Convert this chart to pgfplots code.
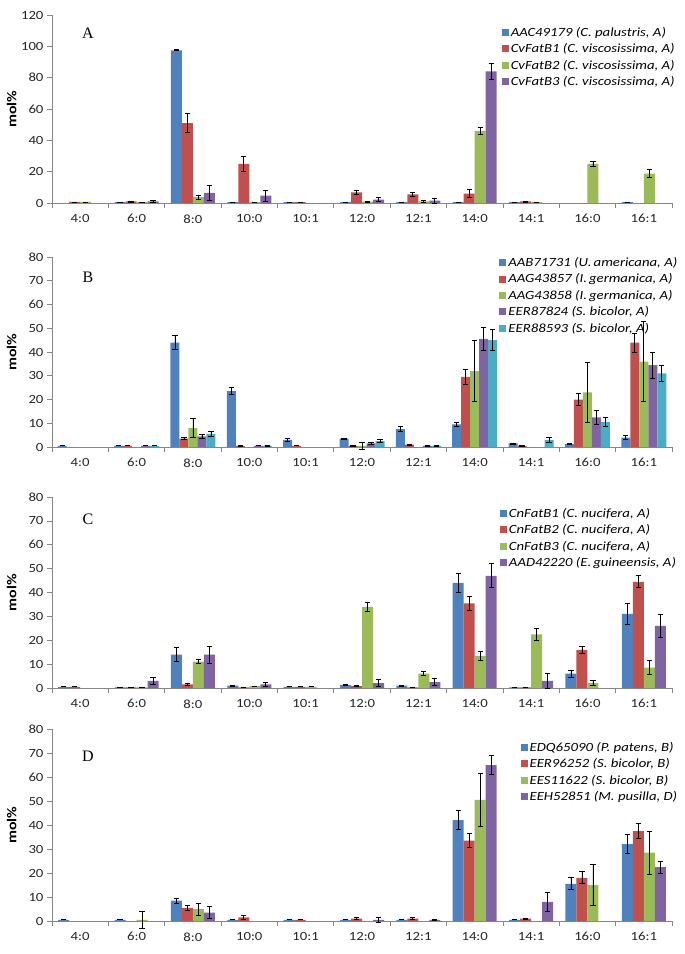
\documentclass[border=0pt]{standalone}
\usepackage{pgfplots}
\pgfplotsset{compat=1.18}
\usepackage{pgfplotstable}
\usepackage{fontspec}
\setmainfont{Carlito}[FakeStretch=1.18]
\newfontfamily\serifletter{Liberation Serif}
\definecolor{cb}{HTML}{4F81BD}
\definecolor{cr}{HTML}{C0504D}
\definecolor{cg}{HTML}{9BBB59}
\definecolor{cp}{HTML}{8064A2}
\definecolor{ca}{HTML}{4BACC6}
\definecolor{axgray}{HTML}{868686}
\definecolor{txt}{HTML}{262626}

\pgfplotstableread{
x a ae b be c ce d de
0 nan 0 0.7 0 0.7 0 nan 0
1 0.5 0 1.0 0.3 0.5 0.2 1.0 0.4
2 97.5 0.3 51 6 3.8 1.2 6.5 4.8
3 0.5 0.2 25 4.8 0.5 0.2 4.7 3.6
4 0.5 0 0.5 0.2 nan 0 nan 0
5 0.5 0.2 6.8 1.5 0.9 0.3 2.2 1.3
6 0.5 0 5.5 1.5 1 0.5 1.5 1.5
7 0.5 0 6 2.5 46 2 84 5
8 0.5 0 1 0.3 0.5 0.2 nan 0
9 nan 0 nan 0 25 1.5 nan 0
10 0.5 0 nan 0 18.8 2.5 nan 0
}\tA

\pgfplotstableread{
x a ae b be c ce d de f fe
0 0.5 0 nan 0 nan 0 nan 0 nan 0
1 0.5 0 0.5 0 nan 0 0.5 0 0.5 0
2 44 3 3.5 0.5 8 4 4.5 1 5.5 1
3 23.5 1.5 0.5 0.2 nan 0 0.5 0 0.5 0.2
4 3 0.5 0.5 0 nan 0 nan 0 nan 0
5 3.5 0.3 0.5 0.2 0.5 1.5 1.5 0.5 2.5 0.5
6 7.5 1 1 0.2 nan 0 0.5 0.2 0.5 0.2
7 9.5 1 29.5 3 32 13 45.5 5 45 4.5
8 1.5 0.2 0.5 0.2 nan 0 nan 0 3 1
9 1.2 0.3 20 2.5 23 12.5 12.5 3 10.5 2
10 4 1 44 4 36 17 34.5 5.5 31 3.5
}\tB

\pgfplotstableread{
x a ae b be c ce d de
0 0.5 0 0.5 0 nan 0 nan 0
1 0.3 0 0.3 0 0.3 0 3 1.5
2 14 3 1.5 0.3 11 0.8 14 3.5
3 1 0.3 0.3 0 0.8 0 1.5 1
4 0.5 0 0.5 0 0.5 0 nan 0
5 1.2 0.3 0.8 0.2 34 2 2 1.5
6 1 0.2 0.3 0 6 0.8 2.5 1.5
7 44 4 35.5 3 13.5 2 47 5
8 0.3 0 0.3 0 22.5 2.5 3 3
9 6 1.5 16 1.5 2 1 nan 0
10 31 4.5 44.5 2.5 8.5 3 26 5
}\tC

\pgfplotstableread{
x a ae b be c ce d de
0 0.5 0 nan 0 nan 0 nan 0
1 0.5 0 nan 0 0.5 3.5 nan 0
2 8.5 1 5.5 1 5 2.5 3.5 2.5
3 0.5 0 1.5 1 nan 0 nan 0
4 0.5 0 0.5 0 nan 0 nan 0
5 0.5 0 1 0.5 nan 0 0.5 1
6 0.5 0 1 0.5 nan 0 0.5 0.2
7 42 4 33.5 3 50.5 11 65 4
8 0.5 0 1 0.2 nan 0 8 4
9 15.5 2.5 18 2.5 15 8.5 nan 0
10 32 4 37.5 3 28.5 9 22.5 2.5
}\tD

\pgfplotsset{
  panel/.style={
    width=620pt, scale only axis, anchor=south west,
    xmin=-0.5, xmax=10.5, ymin=0,
    axis x line*=bottom, axis y line*=left,
    axis line style={draw=axgray, line width=0.7pt, -},
    tick align=outside,
    xtick={0,...,10},
    xticklabels={4:0,6:0,8:0,10:0,10:1,12:0,12:1,14:0,14:1,16:0,16:1},
    minor xtick={-0.5,0.5,...,10.5},
    major x tick style={draw=none},
    minor x tick style={draw=axgray, line width=0.7pt},
    minor tick length=5pt,
    major tick length=5pt,
    y tick style={draw=axgray, line width=0.7pt},
    /pgf/number format/assume math mode=true,
    tick label style={font=\fontsize{12.5}{15}\selectfont, text=txt},
    xticklabel style={yshift=-3pt},
    ylabel={\textbf{mol\%}},
    ylabel style={at={(axis description cs:-0.065,0.5)}, anchor=center, font=\fontsize{13.5}{16}\selectfont, text=black},
    unbounded coords=discard,
    clip=false,
    ybar=0pt, bar width=11pt,
    error bars/y dir=both, error bars/y explicit,
    error bars/error bar style={black, line width=0.8pt},
    error bars/error mark options={black, rotate=90, mark size=2.6pt, line width=0.8pt},
    legend style={draw=none, fill=none, inner sep=0pt, anchor=north east,
      font=\itshape\fontsize{12.5}{15}\selectfont, row sep=1.8pt,
      /tikz/every even column/.append style={column sep=2pt}},
    legend cell align=left,
    legend image code/.code={\fill[##1, draw=none] (0pt,-3.5pt) rectangle (7pt,3.5pt);},
  },
}

\begin{document}
\begin{tikzpicture}
\useasboundingbox (0pt,0pt) rectangle (685pt,-954pt);

% Panel A
\begin{axis}[panel, at={(52pt,-203pt)}, height=188pt, ymax=120, ytick={0,20,...,120},
  legend style={at={(1.008,0.947)}}]
\addplot[fill=cb, draw=none] table[x=x,y=a,y error=ae]{\tA};
\addlegendentry{AAC49179 (C. palustris, A)}
\addplot[fill=cr, draw=none] table[x=x,y=b,y error=be]{\tA};
\addlegendentry{CvFatB1 (C. viscosissima,\ A)}
\addplot[fill=cg, draw=none] table[x=x,y=c,y error=ce]{\tA};
\addlegendentry{CvFatB2 (C. viscosissima,\ A)}
\addplot[fill=cp, draw=none] table[x=x,y=d,y error=de]{\tA};
\addlegendentry{CvFatB3 (C. viscosissima,\ A)}
\node[font=\serifletter\fontsize{16}{16}\selectfont] at (rel axis cs:0.058,0.904) {A};
\end{axis}

% Panel B
\begin{axis}[panel, at={(52pt,-447pt)}, height=190pt, ymax=80, ytick={0,10,...,80},
  bar width=9pt, legend style={at={(1.012,1.01)}}]
\addplot[fill=cb, draw=none] table[x=x,y=a,y error=ae]{\tB};
\addlegendentry{AAB71731 (U.\,americana,\ A)}
\addplot[fill=cr, draw=none] table[x=x,y=b,y error=be]{\tB};
\addlegendentry{AAG43857 (I.\,germanica,\ A)}
\addplot[fill=cg, draw=none] table[x=x,y=c,y error=ce]{\tB};
\addlegendentry{AAG43858 (I.\,germanica,\ A)}
\addplot[fill=cp, draw=none] table[x=x,y=d,y error=de]{\tB};
\addlegendentry{EER87824 (S. bicolor, A)}
\addplot[fill=ca, draw=none] table[x=x,y=f,y error=fe]{\tB};
\addlegendentry{EER88593 (S. bicolor, A)}
\node[font=\serifletter\fontsize{16}{16}\selectfont] at (rel axis cs:0.058,0.895) {B};
\end{axis}

% Panel C
\begin{axis}[panel, at={(52pt,-688pt)}, height=191pt, ymax=80, ytick={0,10,...,80},
  legend style={at={(1.01,0.953)}}]
\addplot[fill=cb, draw=none] table[x=x,y=a,y error=ae]{\tC};
\addlegendentry{CnFatB1 (C. nucifera, A)}
\addplot[fill=cr, draw=none] table[x=x,y=b,y error=be]{\tC};
\addlegendentry{CnFatB2 (C. nucifera, A)}
\addplot[fill=cg, draw=none] table[x=x,y=c,y error=ce]{\tC};
\addlegendentry{CnFatB3 (C. nucifera, A)}
\addplot[fill=cp, draw=none] table[x=x,y=d,y error=de]{\tC};
\addlegendentry{AAD42220 (E.\,guineensis, A)}
\node[font=\serifletter\fontsize{16}{16}\selectfont] at (rel axis cs:0.058,0.885) {C};
\end{axis}

% Panel D
\begin{axis}[panel, at={(52pt,-921pt)}, height=192pt, ymax=80, ytick={0,10,...,80},
  legend style={at={(1.012,0.943)}}]
\addplot[fill=cb, draw=none] table[x=x,y=a,y error=ae]{\tD};
\addlegendentry{EDQ65090 (P. patens, B)}
\addplot[fill=cr, draw=none] table[x=x,y=b,y error=be]{\tD};
\addlegendentry{EER96252 (S. bicolor, B)}
\addplot[fill=cg, draw=none] table[x=x,y=c,y error=ce]{\tD};
\addlegendentry{EES11622 (S. bicolor, B)}
\addplot[fill=cp, draw=none] table[x=x,y=d,y error=de]{\tD};
\addlegendentry{EEH52851 (M. pusilla, D)}
\node[font=\serifletter\fontsize{16}{16}\selectfont] at (rel axis cs:0.058,0.86) {D};
\end{axis}
\end{tikzpicture}
\end{document}
